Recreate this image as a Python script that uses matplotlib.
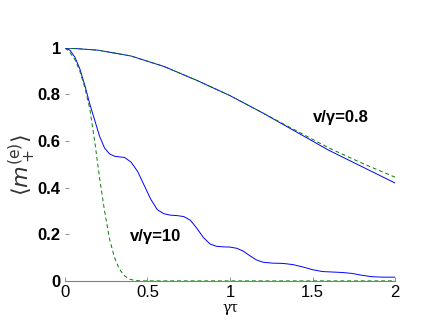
import numpy as np
import matplotlib
matplotlib.use('Agg')
import matplotlib.pyplot as plt

# slow dephasing, v/gamma = 0.8
t_slow = [0, 0.2, 0.4, 0.6, 0.8, 1.0, 1.2, 1.4, 1.6, 1.8, 2.0]
m_slow = [1, 0.99, 0.965, 0.92, 0.86, 0.795, 0.72, 0.64, 0.56, 0.49, 0.42]
m_slow_approx = [1, 0.99, 0.965, 0.92, 0.86, 0.795, 0.72, 0.645, 0.57, 0.505, 0.445]

# fast dephasing, v/gamma = 10
t_fast = [0, 0.03, 0.06, 0.09, 0.12, 0.15, 0.18, 0.21, 0.24, 0.27, 0.30, 0.33, 0.36,
          0.40, 0.44, 0.48, 0.52, 0.56, 0.60, 0.64, 0.68, 0.72, 0.76, 0.80, 0.84,
          0.88, 0.92, 0.96, 1.00, 1.04, 1.08, 1.12, 1.16, 1.20, 1.26, 1.32, 1.38,
          1.44, 1.50, 1.56, 1.62, 1.68, 1.74, 1.80, 1.86, 1.92, 2.0]
m_fast = [1, 0.99, 0.96, 0.91, 0.84, 0.76, 0.69, 0.62, 0.57, 0.545, 0.535, 0.532, 0.53,
          0.51, 0.47, 0.41, 0.35, 0.305, 0.288, 0.282, 0.28, 0.276, 0.26, 0.225, 0.185,
          0.158, 0.148, 0.146, 0.145, 0.14, 0.128, 0.108, 0.09, 0.08, 0.076, 0.075, 0.07,
          0.06, 0.048, 0.04, 0.038, 0.036, 0.032, 0.024, 0.018, 0.016, 0.016]
t_fast_approx = [0, 0.03, 0.06, 0.09, 0.12, 0.15, 0.18, 0.21, 0.24, 0.27, 0.30, 0.33,
                 0.36, 0.39, 0.42, 0.46, 0.5, 1.0, 1.5, 2.0]
m_fast_approx = [1, 0.98, 0.95, 0.9, 0.83, 0.74, 0.6, 0.44, 0.3, 0.18, 0.1, 0.05,
                 0.022, 0.008, 0.002, 0, 0, 0, 0, 0]

fig = plt.figure(figsize=(4.36, 3.21), dpi=100)
ax = fig.add_axes([0.149, 0.125, 0.757, 0.726])

ax.plot(t_slow, m_slow, color='#0000ff', lw=0.7)
ax.plot(t_slow, m_slow_approx, color='#008000', lw=0.7, ls=(0, (4, 3)))
ax.plot(t_fast, m_fast, color='#0000ff', lw=0.7)
ax.plot(t_fast_approx, m_fast_approx, color='#008000', lw=0.7, ls=(0, (4, 3)))

ax.set_xlim(0, 2)
ax.set_ylim(0, 1)
ax.set_xticks([0, 0.5, 1, 1.5, 2])
ax.set_xticklabels(['0', '0.5', '1', '1.5', '2'])
ax.set_yticks([0, 0.2, 0.4, 0.6, 0.8, 1])
ax.set_yticklabels(['0', '0.2', '0.4', '0.6', '0.8', '1'])

for side in ['top', 'right', 'left']:
    ax.spines[side].set_visible(False)
ax.spines['bottom'].set_color('#808080')
ax.spines['bottom'].set_linewidth(0.8)
ax.tick_params(direction='in', length=3, color='#808080', width=0.6)
ax.tick_params(axis='x', labelsize=12, pad=3)
ax.tick_params(axis='y', labelsize=12, pad=3)
for lab in ax.get_yticklabels():
    lab.set_fontweight('bold')
for lab in ax.get_xticklabels() + ax.get_yticklabels():
    lab.set_fontfamily('Liberation Sans')

ax.text(1.67, 0.70, 'v/γ=0.8', fontsize=12, fontweight='bold',
        ha='center', va='center', family='Liberation Sans')
ax.text(0.55, 0.19, 'v/γ=10', fontsize=12, fontweight='bold',
        ha='center', va='center', family='Liberation Sans')

ax.set_xlabel('γτ', fontsize=10, labelpad=1, family='DejaVu Serif')
ax.set_ylabel(r'$\langle m_+^{(\mathrm{e})}\rangle$', fontsize=16, color='#333333', labelpad=0)

fig.savefig('out.png', dpi=100)
